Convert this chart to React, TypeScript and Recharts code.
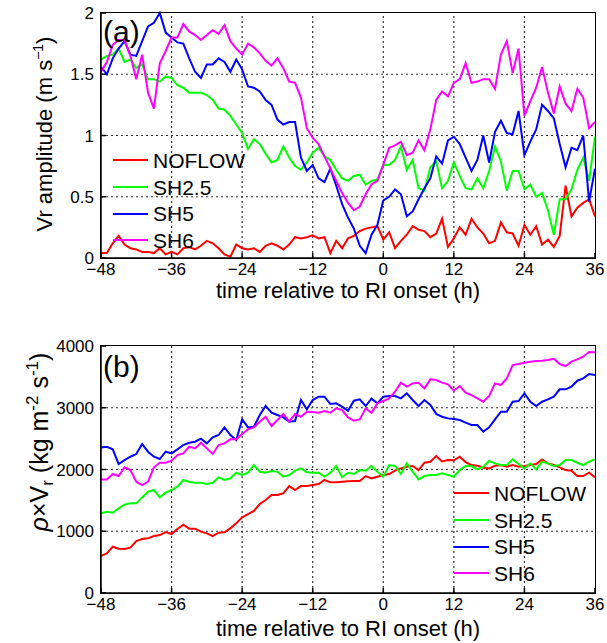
import React from "react";
import { LineChart, Line, XAxis, YAxis, Legend, ReferenceLine } from "recharts";

const FONT = "'Liberation Sans', Arial, Helvetica, sans-serif";

// hours relative to RI onset
const HOURS = [
  -48, -47, -46, -45, -44, -43, -42, -41, -40, -39,
  -38, -37, -36, -35, -34, -33, -32, -31, -30, -29,
  -28, -27, -26, -25, -24, -23, -22, -21, -20, -19,
  -18, -17, -16, -15, -14, -13, -12, -11, -10, -9,
  -8, -7, -6, -5, -4, -3, -2, -1, 0, 1,
  2, 3, 4, 5, 6, 7, 8, 9, 10, 11,
  12, 13, 14, 15, 16, 17, 18, 19, 20, 21,
  22, 23, 24, 25, 26, 27, 28, 29, 30, 31,
  32, 33, 34, 35, 36,
];
const X_TICKS = [-48, -36, -24, -12, 0, 12, 24, 36];

// (a) Vr amplitude (m/s)
const VR_NOFLOW = [
  0.04, 0.04, 0.12, 0.18, 0.11, 0.08, 0.07, 0.05, 0.05, 0.04,
  0.08, 0.03, 0.05, 0.03, 0.08, 0.09, 0.07, 0.1, 0.14, 0.12,
  0.08, 0.03, 0.01, 0.11, 0.08, 0.07, 0.08, 0.05, 0.1, 0.12,
  0.1, 0.07, 0.11, 0.17, 0.16, 0.17, 0.185, 0.16, 0.17, 0.04,
  0.14, 0.08, 0.16, 0.18, 0.22, 0.24, 0.25, 0.26, 0.15, 0.21,
  0.08, 0.14, 0.19, 0.26, 0.23, 0.22, 0.17, 0.2, 0.32, 0.09,
  0.16, 0.25, 0.19, 0.32, 0.25, 0.2, 0.12, 0.14, 0.29, 0.21,
  0.2, 0.1, 0.27, 0.19, 0.26, 0.11, 0.15, 0.09, 0.18, 0.59,
  0.34, 0.41, 0.45, 0.48, 0.34,
];
const VR_SH25 = [
  1.62, 1.65, 1.66, 1.71, 1.6, 1.62, 1.55, 1.58, 1.46, 1.46,
  1.44, 1.48, 1.47, 1.41, 1.39, 1.35, 1.35, 1.35, 1.33, 1.29,
  1.22, 1.21, 1.16, 1.09, 1.02, 0.89, 0.97, 0.93, 0.85, 0.78,
  0.8, 0.91, 0.82, 0.75, 0.72, 0.78, 0.86, 0.9, 0.83, 0.8,
  0.72, 0.65, 0.63, 0.67, 0.68, 0.6, 0.63, 0.64, 0.76, 0.76,
  0.8, 0.91, 0.72, 0.8, 0.57, 0.55, 0.74, 0.79, 0.57, 0.63,
  0.78, 0.67, 0.57, 0.56, 0.65, 0.57, 0.71, 0.91, 0.79, 0.55,
  0.71, 0.71, 0.56, 0.6, 0.5, 0.53, 0.39, 0.19, 0.48, 0.48,
  0.56, 0.72, 0.82, 0.63, 0.99,
];
const VR_SH5 = [
  1.56, 1.5, 1.63, 1.71, 1.77, 1.66, 1.65, 1.77, 1.89, 1.92,
  2.0, 1.84, 1.8, 1.76, 1.75, 1.63, 1.52, 1.47, 1.58, 1.58,
  1.63, 1.6, 1.52, 1.62, 1.54, 1.4, 1.39, 1.36, 1.29, 1.25,
  1.13, 1.09, 1.11, 1.11, 0.82, 0.71, 0.76, 0.65, 0.62, 0.73,
  0.59, 0.44, 0.33, 0.24, 0.1, 0.04, 0.19, 0.27, 0.47, 0.5,
  0.56, 0.52, 0.34, 0.38, 0.48, 0.57, 0.65, 0.83, 0.77, 0.96,
  0.99, 0.93, 0.82, 0.71, 0.8, 1.0, 0.78, 1.03, 1.12, 1.02,
  1.01, 1.2, 0.84, 0.95, 1.05, 1.25, 1.2, 1.14, 0.93, 0.74,
  0.9, 0.88, 1.0, 0.46, 0.73,
];
const VR_SH6 = [
  1.52, 1.6, 1.74, 1.78, 1.78, 1.65, 1.46, 1.66, 1.35, 1.22,
  1.59, 1.69, 1.8, 1.8, 1.91, 1.85, 1.82, 1.78, 1.82, 1.86,
  1.83, 1.9, 1.77, 1.71, 1.66, 1.75, 1.72, 1.67, 1.61, 1.57,
  1.63, 1.55, 1.44, 1.43, 1.31, 1.06, 0.98, 0.93, 0.83, 0.73,
  0.63, 0.53, 0.45, 0.39, 0.42, 0.52, 0.6, 0.63, 0.76, 0.9,
  0.92, 0.95, 0.84, 0.86, 0.96, 0.88, 1.05, 1.29, 1.36, 1.32,
  1.43, 1.46, 1.59, 1.43, 1.44, 1.46, 1.46, 1.38, 1.66, 1.77,
  1.51, 1.71, 1.16, 1.28, 1.39, 1.56, 1.35, 1.18, 1.4, 1.26,
  1.2, 1.38, 1.31, 1.06, 1.11,
];

// (b) rho x Vr (kg m-2 s-1)
const PV_NOFLOW = [
  600, 640, 750, 718, 712, 734, 842, 874, 885, 923,
  939, 988, 955, 1036, 1106, 1042, 1042, 993, 966, 923,
  977, 982, 1047, 1128, 1225, 1279, 1328, 1441, 1506, 1587,
  1587, 1614, 1732, 1668, 1732, 1732, 1749, 1765, 1830, 1792,
  1792, 1803, 1808, 1813, 1813, 1894, 1857, 1884, 1911, 1927,
  1981, 2018, 2045, 2056, 1991, 2110, 2126, 2218, 2130, 2153,
  2150, 2207, 2120, 2072, 2062, 2029, 2018, 2062, 2072, 2045,
  2072, 2045, 2056, 2072, 2089, 2164, 2099, 2072, 2035, 1991,
  1981, 1894, 1894, 1948, 1873,
];
const PV_SH25 = [
  1290, 1317, 1300, 1371, 1430, 1452, 1452, 1549, 1641, 1668,
  1549, 1625, 1668, 1722, 1830, 1797, 1786, 1786, 1765, 1786,
  1873, 1830, 1857, 1948, 1911, 1948, 2072, 1964, 1948, 1975,
  1964, 1884, 1911, 1981, 2018, 1954, 1948, 1948, 1884, 1948,
  2056, 1873, 1948, 1927, 1991, 1981, 2056, 1964, 1884, 2072,
  2056, 1927, 2099, 1964, 1840, 1894, 1911, 1911, 1937, 1911,
  1884, 1991, 2056, 2056, 2002, 2045, 2137, 2099, 2072, 2072,
  2164, 2089, 2018, 2099, 2002, 2126, 2099, 2056, 2072, 2153,
  2153, 2110, 2072, 2126, 2164,
];
const PV_SH5 = [
  2358, 2369, 2326, 2089, 2153, 2207, 2250, 2412, 2288, 2207,
  2170, 2288, 2261, 2326, 2396, 2434, 2450, 2499, 2423, 2520,
  2558, 2682, 2558, 2477, 2812, 2682, 2693, 2882, 3028, 2920,
  2882, 2844, 2774, 2785, 3125, 2974, 3125, 3179, 3179, 3060,
  3071, 3017, 2952, 3114, 3136, 3028, 3146, 3071, 3179, 3190,
  3190, 3152, 3233, 3125, 3028, 3125, 3044, 2900, 2855, 2828,
  2817, 2801, 2758, 2720, 2720, 2612, 2682, 2812, 2936, 2936,
  3098, 3109, 3233, 3098, 3028, 3098, 3136, 3179, 3298, 3298,
  3341, 3438, 3476, 3546, 3530,
];
const PV_SH6 = [
  1840, 1840, 1927, 1894, 2035, 1991, 1803, 1749, 1803, 2035,
  2110, 2110, 2143, 2234, 2261, 2369, 2342, 2434, 2342, 2250,
  2396, 2423, 2488, 2488, 2574, 2650, 2682, 2774, 2855, 2704,
  2801, 2898, 2774, 2898, 2855, 2936, 2931, 2920, 2947, 2920,
  2990, 2963, 2844, 2790, 2812, 2990, 2920, 3071, 3109, 3152,
  3260, 3406, 3341, 3395, 3406, 3314, 3460, 3449, 3406, 3379,
  3276, 3352, 3244, 3206, 3152, 3098, 3190, 3395, 3368, 3476,
  3691, 3708, 3730, 3746, 3757, 3762, 3773, 3794, 3708, 3675,
  3746, 3784, 3827, 3902, 3897,
];

const SERIES = [
  { key: "noflow", name: "NOFLOW", color: "#ff0000" },
  { key: "sh25", name: "SH2.5", color: "#00ff00" },
  { key: "sh5", name: "SH5", color: "#0000ff" },
  { key: "sh6", name: "SH6", color: "#ff00ff" },
];

const vrData = HOURS.map((h, i) => ({
  h,
  noflow: VR_NOFLOW[i],
  sh25: VR_SH25[i],
  sh5: VR_SH5[i],
  sh6: VR_SH6[i],
}));

const pvData = HOURS.map((h, i) => ({
  h,
  noflow: PV_NOFLOW[i],
  sh25: PV_SH25[i],
  sh5: PV_SH5[i],
  sh6: PV_SH6[i],
}));

const fmtHour = (v: number) => (v < 0 ? "\u2212" + Math.abs(v) : String(v));

const CHART_W = 607;
const AXIS_W = 101;
const RIGHT = 12;

const TICK = { fontSize: 17, fill: "#000", fontFamily: FONT };
const AXIS = { stroke: "#000", strokeWidth: 1.5 };
const GRID = { stroke: "#333", strokeDasharray: "2 3", strokeWidth: 1.2 };

function LegendBox() {
  return (
    <div style={{ fontFamily: FONT, fontSize: 21, color: "#000", lineHeight: 1 }}>
      {SERIES.map((s) => (
        <div key={s.key} style={{ display: "flex", alignItems: "center", height: 26.7 }}>
          <span style={{ display: "inline-block", width: 35, height: 2, background: s.color, marginRight: 5 }} />
          <span>{s.name}</span>
        </div>
      ))}
    </div>
  );
}

interface PanelProps {
  data: any[];
  height: number;
  top: number;
  xAxisHeight: number;
  yDomain: [number, number];
  yTicks: number[];
  tag: string;
  tagY: number;
  xLabelY: number;
  yLabel: React.ReactNode;
  legendPos: { left: number; top: number };
}

function Panel(p: PanelProps) {
  const plotH = p.height - p.top - p.xAxisHeight;
  const plotW = CHART_W - AXIS_W - RIGHT;
  return (
    <div style={{ position: "relative", width: CHART_W, height: p.height }}>
      <LineChart
        width={CHART_W}
        height={p.height}
        data={p.data}
        margin={{ top: p.top, right: RIGHT, bottom: 0, left: 0 }}
      >
        {/* dotted grid at every inner tick */}
        {X_TICKS.slice(1, -1).map((t) => (
          <ReferenceLine key={"gx" + t} x={t} ifOverflow="visible" {...GRID} />
        ))}
        {p.yTicks.slice(1, -1).map((t) => (
          <ReferenceLine key={"gy" + t} y={t} ifOverflow="visible" {...GRID} />
        ))}
        <XAxis
          dataKey="h"
          type="number"
          domain={[-48, 36]}
          ticks={X_TICKS}
          interval={0}
          height={p.xAxisHeight}
          axisLine={AXIS}
          tickLine={AXIS}
          tickSize={-5}
          tickMargin={10}
          tick={TICK}
          tickFormatter={fmtHour}
          label={() => (
            <text x={348} y={p.xLabelY} textAnchor="middle" fontSize={22} fontFamily={FONT} fill="#000">
              time relative to RI onset (h)
            </text>
          )}
        />
        <YAxis
          type="number"
          domain={p.yDomain}
          ticks={p.yTicks}
          interval={0}
          width={AXIS_W}
          axisLine={AXIS}
          tickLine={AXIS}
          tickSize={-5}
          tickMargin={12}
          tick={TICK}
          label={() => (
            <g>
              {p.yLabel}
              <text x={103} y={p.tagY} fontSize={30} fontFamily={FONT} fill="#000">
                {p.tag}
              </text>
            </g>
          )}
        />
        {SERIES.map((s) => (
          <Line
            key={s.key}
            dataKey={s.key}
            name={s.name}
            stroke={s.color}
            strokeWidth={2}
            dot={false}
            type="linear"
            isAnimationActive={false}
          />
        ))}
        <Legend
          layout="vertical"
          align="center"
          verticalAlign="middle"
          content={() => <LegendBox />}
          wrapperStyle={{ left: p.legendPos.left, top: p.legendPos.top, width: "auto" }}
        />
      </LineChart>
      {/* axes box (matlab style), laid over the plot area */}
      <div
        style={{
          position: "absolute",
          left: AXIS_W - 1,
          top: p.top - 1,
          width: plotW,
          height: plotH,
          border: "1.5px solid #000",
          boxSizing: "content-box",
          pointerEvents: "none",
        }}
      />
    </div>
  );
}

const vrLabel = (
  <text
    x={52}
    y={134}
    transform="rotate(-90 52 134)"
    textAnchor="middle"
    fontSize={22}
    fontFamily={FONT}
    fill="#000"
  >
    Vr amplitude (m s<tspan dy={-9} fontSize={14}>{"\u22121"}</tspan>
    <tspan dy={9}>)</tspan>
  </text>
);

const pvLabel = (
  <text
    x={48}
    y={122}
    transform="rotate(-90 48 122)"
    textAnchor="middle"
    fontSize={25}
    fontFamily={FONT}
    fill="#000"
  >
    <tspan fontStyle="italic">{"\u03c1"}</tspan>
    {"\u00d7V"}
    <tspan dy={5} fontSize={17}>r</tspan>
    <tspan dy={-5}> (kg m</tspan>
    <tspan dy={-10} fontSize={17}>-2</tspan>
    <tspan dy={10}> s</tspan>
    <tspan dy={-10} fontSize={17}>-1</tspan>
    <tspan dy={10}>)</tspan>
  </text>
);

export default function App() {
  return (
    <div style={{ position: "absolute", left: 0, top: 0, width: 607, height: 643, background: "#fff" }}>
      <div style={{ position: "absolute", left: 0, top: 0 }}>
        <Panel
          data={vrData}
          height={320}
          top={13}
          xAxisHeight={62}
          yDomain={[0, 2]}
          yTicks={[0, 0.5, 1, 1.5, 2]}
          tag="(a)"
          tagY={42}
          xLabelY={298}
          yLabel={vrLabel}
          legendPos={{ left: 113, top: 147 }}
        />
      </div>
      <div style={{ position: "absolute", left: 0, top: 320 }}>
        <Panel
          data={pvData}
          height={323}
          top={26}
          xAxisHeight={50}
          yDomain={[0, 4000]}
          yTicks={[0, 1000, 2000, 3000, 4000]}
          tag="(b)"
          tagY={57}
          xLabelY={316}
          yLabel={pvLabel}
          legendPos={{ left: 454, top: 160 }}
        />
      </div>
    </div>
  );
}
